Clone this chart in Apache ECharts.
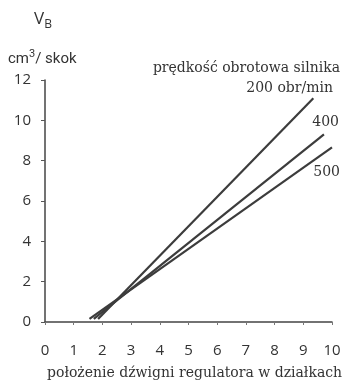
<!DOCTYPE html>
<html><head><meta charset="utf-8">
<script src="https://cdn.jsdelivr.net/npm/echarts@6/dist/echarts.min.js"></script>
<style>html,body{margin:0;padding:0;background:#fff}#c{width:345px;height:385px}</style>
</head><body><div id="c"></div>
<script>
var xTicks = [0,1,2,3,4,5,6,7,8,9,10];
var yTicks = [0,2,4,6,8,10,12];
var line200 = [[1.85,0.15],[9.35,11.1]];
var line400 = [[1.7,0.15],[9.72,9.3]];
var line500 = [[1.55,0.15],[10.0,8.66]];
var seriesNames = ['200 obr/min','400','500'];

var chart = echarts.init(document.getElementById('c'));
var lineStyle = {color:'#3c3c3c', width:2.2};
chart.setOption({
  animation:false,
  grid:{left:45,right:13,top:80,bottom:63},
  xAxis:{type:'value',min:0,max:10,interval:1,
    axisLine:{lineStyle:{color:'#444',width:1.5}},
    axisTick:{show:true,length:3,lineStyle:{color:'#777'}},
    splitLine:{show:false},
    axisLabel:{color:'#333',fontSize:15,fontFamily:'Open Sans',margin:21}},
  yAxis:{type:'value',min:0,max:12,interval:2,
    axisLine:{show:true,lineStyle:{color:'#444',width:1.5}},
    axisTick:{show:true,length:4,lineStyle:{color:'#555'}},
    splitLine:{show:false},
    axisLabel:{color:'#333',fontSize:15,fontFamily:'Open Sans',margin:14}},
  series:[
    {type:'line',name:seriesNames[0],data:line200,symbol:'none',lineStyle:lineStyle},
    {type:'line',name:seriesNames[1],data:line400,symbol:'none',lineStyle:lineStyle},
    {type:'line',name:seriesNames[2],data:line500,symbol:'none',lineStyle:lineStyle}
  ],
  graphic:[
    {type:'text',left:34,top:11,style:{text:'{v|V}{b|B}',rich:{v:{fontSize:17,fontFamily:'Open Sans',fill:'#333'},b:{fontSize:12,fontFamily:'Open Sans',fill:'#333',padding:[10,0,0,0]}}}},
    {type:'text',left:8,top:49,style:{text:'{a|cm}{s|3}{a|/ skok}',rich:{a:{fontSize:15,fontFamily:'Roboto',fill:'#333'},s:{fontSize:11,fontFamily:'Roboto',fill:'#333',padding:[0,0,9,0]}}}},
    {type:'text',right:5,top:61,style:{text:'prędkość obrotowa silnika',fontSize:14,fontFamily:'DejaVu Serif',fill:'#333'}},
    {type:'text',right:12,top:81,style:{text:seriesNames[0],fontSize:14,fontFamily:'DejaVu Serif',fill:'#333'}},
    {type:'text',right:6,top:115,style:{text:seriesNames[1],fontSize:14,fontFamily:'DejaVu Serif',fill:'#333'}},
    {type:'text',right:5,top:165,style:{text:seriesNames[2],fontSize:14,fontFamily:'DejaVu Serif',fill:'#333'}},
    {type:'text',left:47,top:366,style:{text:'położenie dźwigni regulatora w działkach',fontSize:14,fontFamily:'DejaVu Serif',fill:'#333'}}
  ]
});
</script></body></html>
